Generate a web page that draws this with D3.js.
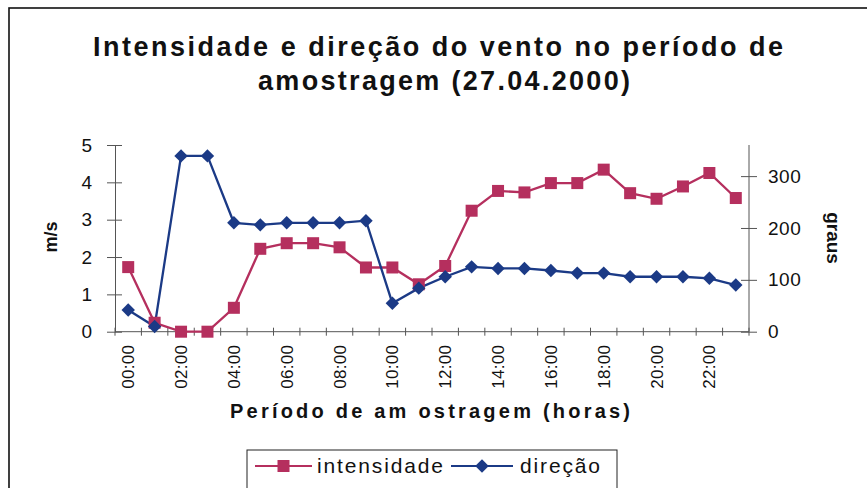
<!DOCTYPE html>
<html>
<head>
<meta charset="utf-8">
<script src="https://cdn.jsdelivr.net/npm/d3@7"></script>
<style>
  html, body { margin: 0; padding: 0; background: #fff; }
  svg { display: block; font-family: "Liberation Sans", Arial, sans-serif; }
</style>
</head>
<body>
<svg id="chart" width="867" height="488"></svg>
<script>
// Hourly samples, 27.04.2000
const hours = ["00:00","01:00","02:00","03:00","04:00","05:00","06:00","07:00","08:00","09:00","10:00","11:00",
               "12:00","13:00","14:00","15:00","16:00","17:00","18:00","19:00","20:00","21:00","22:00","23:00"];
const intensidade = [1.73, 0.24, 0, 0, 0.64, 2.22, 2.37, 2.37, 2.26, 1.72, 1.72, 1.27,
                     1.76, 3.24, 3.77, 3.73, 3.98, 3.98, 4.34, 3.71, 3.56, 3.89, 4.25, 3.58];
const direcao = [42, 10, 339, 339, 210, 206, 210, 210, 210, 214, 55, 84,
                 106, 125, 122, 122, 118, 113, 113, 106, 106, 106, 103, 90];
const leftTicks = [0, 1, 2, 3, 4, 5];
const rightTicks = [0, 100, 200, 300];
const hourLabels = ["00:00","02:00","04:00","06:00","08:00","10:00","12:00","14:00","16:00","18:00","20:00","22:00"];

const colInt = "#b52f5e";
const colDir = "#1b3a86";

const svg = d3.select("#chart");
const plot = { left: 115, right: 749, top: 145, bottom: 331.7 };

// outer frame
svg.append("rect").attr("x", 9).attr("y", 8).attr("width", 900).attr("height", 600)
  .attr("fill", "none").attr("stroke", "#111").attr("stroke-width", 1.6);

// title
const title = svg.append("g").attr("font-weight", "bold").attr("font-size", 27).attr("fill", "#111");
title.append("text").attr("x", 93).attr("y", 56)
  .attr("textLength", 690).attr("lengthAdjust", "spacing")
  .text("Intensidade e direção do vento no período de");
title.append("text").attr("x", 258).attr("y", 90)
  .attr("textLength", 372).attr("lengthAdjust", "spacing")
  .text("amostragem (27.04.2000)");

// scales
const x = d3.scaleBand().domain(hours).range([plot.left, plot.right]).padding(0);
const yL = d3.scaleLinear().domain([0, 5]).range([plot.bottom, plot.top]);
const yR = d3.scaleLinear().domain([0, 360]).range([plot.bottom, plot.top]);
const cx = h => x(h) + x.bandwidth() / 2;

// left axis
const axL = svg.append("g").attr("transform", `translate(${plot.left},0)`)
  .call(d3.axisLeft(yL).tickValues(leftTicks).tickFormat(d3.format("d"))
    .tickSizeInner(8).tickSizeOuter(0).tickPadding(14));
axL.select(".domain").attr("stroke", "#555");
axL.selectAll(".tick line").attr("stroke", "#555").attr("x2", -8).attr("x1", 7);
axL.selectAll(".tick text").attr("font-size", 19).attr("fill", "#111")
  .attr("font-family", "Liberation Sans, Arial, sans-serif").attr("x", -23);

// right axis
const axR = svg.append("g").attr("transform", `translate(${plot.right},0)`)
  .call(d3.axisRight(yR).tickValues(rightTicks).tickSizeInner(8).tickSizeOuter(0).tickPadding(14));
axR.select(".domain").attr("stroke", "#555").attr("d", `M0,${plot.top}V${plot.bottom}`);
axR.selectAll(".tick line").attr("stroke", "#555").attr("x1", -8).attr("x2", 8);
axR.selectAll(".tick text").attr("font-size", 19).attr("fill", "#111")
  .attr("font-family", "Liberation Sans, Arial, sans-serif").attr("x", 19).attr("letter-spacing", 0.5);

// bottom axis: tick marks between categories, labels every two hours
const axB = svg.append("g").attr("transform", `translate(0,${plot.bottom})`);
axB.append("line").attr("x1", plot.left).attr("x2", plot.right).attr("stroke", "#555");
const edges = hours.map(h => x(h)).concat([x.range()[1]]);
axB.selectAll("line.tk").data(edges).join("line").attr("class", "tk")
  .attr("x1", d => d).attr("x2", d => d).attr("y1", -4).attr("y2", 4).attr("stroke", "#555");
axB.selectAll("text").data(hourLabels).join("text")
  .attr("transform", d => `translate(${cx(d) + 6},13) rotate(-90)`)
  .attr("text-anchor", "end").attr("font-size", 17).attr("fill", "#111")
  .attr("letter-spacing", 0.3)
  .text(d => d);

// axis titles
svg.append("text").attr("transform", "translate(57,237) rotate(-90)")
  .attr("text-anchor", "middle").attr("font-weight", "bold").attr("font-size", 18).attr("fill", "#111")
  .text("m/s");
svg.append("text").attr("transform", "translate(827,238) rotate(90)")
  .attr("text-anchor", "middle").attr("font-weight", "bold").attr("font-size", 19).attr("fill", "#111")
  .text("graus");
svg.append("text").attr("x", 230).attr("y", 418)
  .attr("textLength", 400).attr("lengthAdjust", "spacing")
  .attr("font-weight", "bold").attr("font-size", 20).attr("fill", "#111")
  .text("Período de am ostragem (horas)");

// series
const lineL = d3.line().x((d, i) => cx(hours[i])).y(d => yL(d));
const lineR = d3.line().x((d, i) => cx(hours[i])).y(d => yR(d));

svg.append("path").datum(intensidade).attr("d", lineL)
  .attr("fill", "none").attr("stroke", colInt).attr("stroke-width", 2.3);
svg.append("path").datum(direcao).attr("d", lineR)
  .attr("fill", "none").attr("stroke", colDir).attr("stroke-width", 2.3);

const sq = 12;
svg.append("g").selectAll("rect").data(intensidade).join("rect")
  .attr("x", (d, i) => cx(hours[i]) - sq / 2).attr("y", d => yL(d) - sq / 2)
  .attr("width", sq).attr("height", sq).attr("fill", colInt);

const diamond = d3.symbol().type(d3.symbolDiamond2).size(115);
svg.append("g").selectAll("path").data(direcao).join("path")
  .attr("transform", (d, i) => `translate(${cx(hours[i])},${yR(d)})`)
  .attr("d", diamond).attr("fill", colDir);

// legend
const lg = svg.append("g");
lg.append("rect").attr("x", 247).attr("y", 450).attr("width", 370).attr("height", 80)
  .attr("fill", "#fff").attr("stroke", "#222").attr("stroke-width", 1);
lg.append("line").attr("x1", 255).attr("x2", 312).attr("y1", 466).attr("y2", 466)
  .attr("stroke", colInt).attr("stroke-width", 2.2);
lg.append("rect").attr("x", 283.5 - sq / 2).attr("y", 466 - sq / 2).attr("width", sq).attr("height", sq).attr("fill", colInt);
lg.append("text").attr("x", 317).attr("y", 473).attr("font-size", 21).attr("fill", "#111")
  .attr("textLength", 126).attr("lengthAdjust", "spacing").text("intensidade");
lg.append("line").attr("x1", 451).attr("x2", 513).attr("y1", 466).attr("y2", 466)
  .attr("stroke", colDir).attr("stroke-width", 2.2);
lg.append("path").attr("transform", "translate(482,466)").attr("d", diamond).attr("fill", colDir);
lg.append("text").attr("x", 520).attr("y", 473).attr("font-size", 21).attr("fill", "#111")
  .attr("textLength", 80).attr("lengthAdjust", "spacing").text("direção");
</script>
</body>
</html>
